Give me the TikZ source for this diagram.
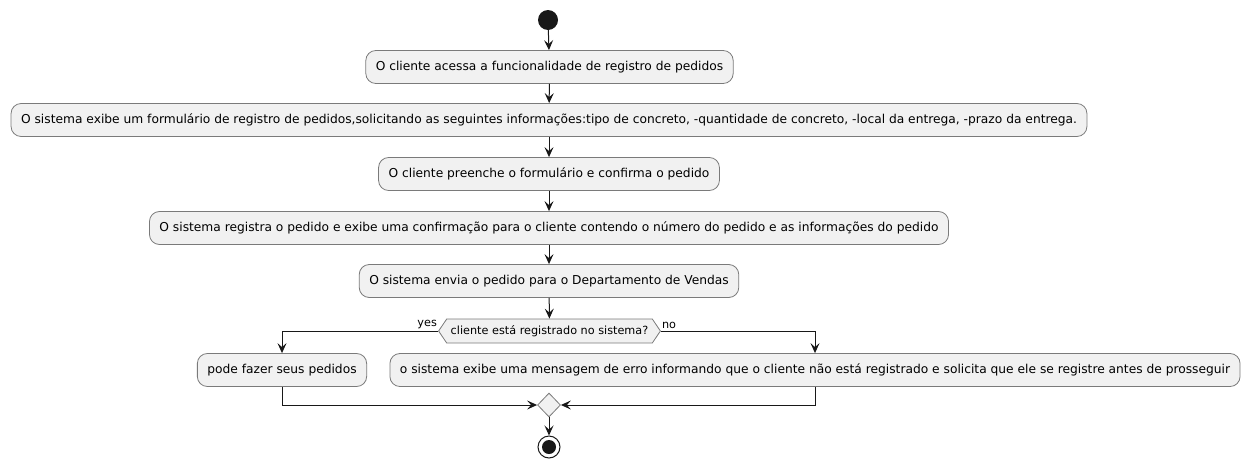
\documentclass[tikz,border=0pt]{standalone}
\usepackage{fontspec}
\setmainfont{DejaVu Sans}
\usetikzlibrary{arrows.meta,shapes.geometric,shapes.symbols}
\definecolor{actfill}{HTML}{F1F1F1}
\definecolor{ink}{HTML}{181818}
\definecolor{border}{HTML}{7A7A7A}
\tikzset{
  act/.style={draw=border, line width=0.8pt, fill=actfill, rounded corners=10pt,
    minimum height=33pt, inner xsep=10pt, font=\fontsize{12.25}{14}\selectfont, text=black},
  flow/.style={draw=ink, line width=1pt, -{Stealth[length=10pt,width=9pt,inset=4pt]}},
  lbl/.style={font=\fontsize{11.25}{13}\selectfont, text=black, inner sep=1pt},
}
\begin{document}
\begin{tikzpicture}[x=1pt,y=-1pt]
\useasboundingbox (0,0) rectangle (1250,469);
\node[circle, fill=ink, minimum size=20pt, inner sep=0] (start) at (548,20) {};
\node[act] (b1) at (549.5,67) {O cliente acessa a funcionalidade de registro de pedidos};
\node[act] (b2) at (549,120) {O sistema exibe um formulário de registro de pedidos,solicitando as seguintes informações:tipo de concreto, -quantidade de concreto, -local da entrega, -prazo da entrega.};
\node[act] (b3) at (549,174) {O cliente preenche o formulário e confirma o pedido};
\node[act] (b4) at (549,228) {O sistema registra o pedido e exibe uma confirmação para o cliente contendo o número do pedido e as informações do pedido};
\node[act] (b5) at (549,281) {O sistema envia o pedido para o Departamento de Vendas};
\node[draw=border, line width=0.8pt, fill=actfill, signal, signal to=west and east, signal pointer angle=112,
  minimum height=24pt, inner xsep=4pt, inner ysep=2pt, font=\fontsize{11.25}{13}\selectfont] (dec) at (549.5,331) {cliente está registrado no sistema?};
\node[act] (left) at (282,370) {pode fazer seus pedidos};
\node[act] (right) at (815,370) {o sistema exibe uma mensagem de erro informando que o cliente não está registrado e solicita que ele se registre antes de prosseguir};
\node[diamond, draw=border, line width=0.8pt, fill=actfill, minimum width=23pt, minimum height=24pt, inner sep=0] (merge) at (549,405) {};
\node[circle, draw=ink, line width=1pt, fill=white, minimum size=22pt, inner sep=0] (end) at (549,447) {};
\node[circle, fill=ink, minimum size=14pt, inner sep=0] (endin) at (end.center) {};
\draw[flow] (start) -- (b1);
\draw[flow] (b1) -- (b2);
\draw[flow] (b2) -- (b3);
\draw[flow] (b3) -- (b4);
\draw[flow] (b4) -- (b5);
\draw[flow] (b5) -- (dec);
\draw[flow] (dec.west) -| (left.north);
\draw[flow] (dec.east) -| (right.north);
\draw[flow] (left.south) |- (merge.west);
\draw[flow] (right.south) |- (merge.east);
\draw[flow] (merge) -- (end);
\node[lbl, anchor=south east] (yes) at ([yshift=1pt]dec.west) {yes};
\node[lbl, anchor=south west] (no) at ([yshift=1pt]dec.east) {no};
\end{tikzpicture}
\end{document}
